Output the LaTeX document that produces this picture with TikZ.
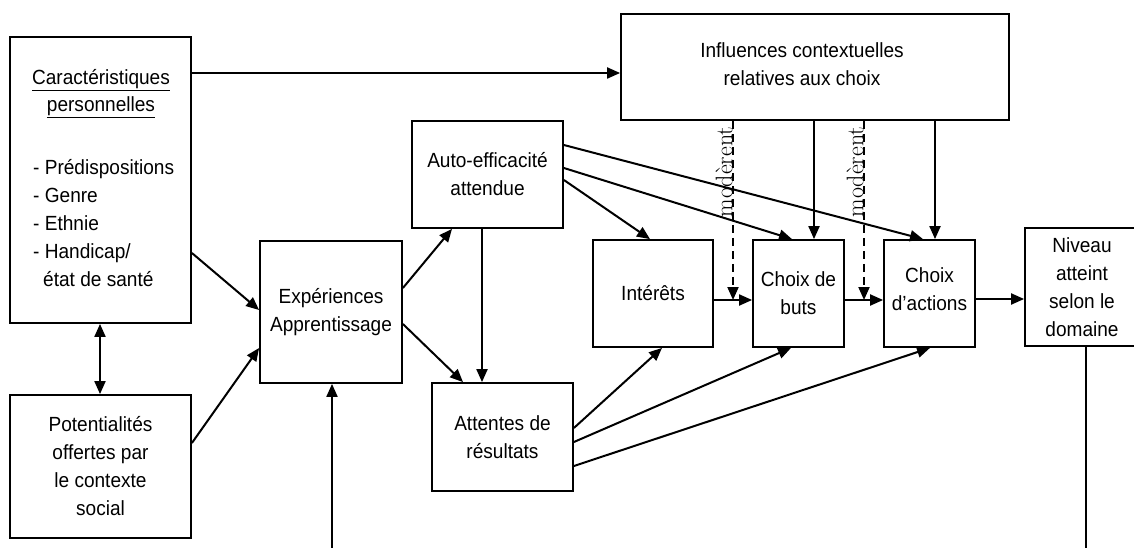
\documentclass[tikz,border=0pt]{standalone}
\usepackage{fontspec}
\newfontfamily\arialn[FakeStretch=0.93]{Liberation Sans}
\usetikzlibrary{arrows.meta}
\begin{document}
\begin{tikzpicture}[x=1pt,y=-1pt,
  box/.style={draw,line width=1.8pt,rectangle,inner sep=0pt,align=center,
    font=\arialn\fontsize{20.5}{28}\selectfont},
  txt/.style={inner sep=0pt,font=\arialn\fontsize{20.5}{28}\selectfont},
  tip/.style={},
  arr/.style={line width=2pt,-{Triangle[length=13pt,width=11pt]}},
  darr/.style={arr,dash pattern=on 8pt off 5pt},
  plain/.style={line width=2pt},
  modlbl/.style={inner sep=0pt,rotate=90,font=\rmfamily\fontsize{24}{24}\selectfont}]
\useasboundingbox (0,0) rectangle (1134,548);
% boxes
\node[box,minimum width=181pt,minimum height=286pt] (caract) at (100.5,180) {};
\node[txt,align=center] (caracthead) at (101,94) {\underline{Caractéristiques}\\[-1pt]\underline{personnelles}};
\node[txt,align=left,anchor=west] (caractlist) at (33,223) {- Prédispositions\\- Genre\\- Ethnie\\- Handicap/\\\hspace*{10pt}état de santé};
\node[box,minimum width=181pt,minimum height=143pt] (pot) at (100.5,466.5) {Potentialités\\offertes par\\le contexte\\social};
\node[box,minimum width=142pt,minimum height=142pt] (exp) at (331,312) {Expériences\\Apprentissage};
\node[box,minimum width=151pt,minimum height=107pt] (auto) at (487.5,174.5) {Auto-efficacité\\attendue};
\node[box,minimum width=141pt,minimum height=108pt] (att) at (502.5,437) {Attentes de\\résultats};
\node[box,minimum width=120pt,minimum height=107pt] (int) at (653,293.5) {Intérêts};
\node[box,minimum width=91pt,minimum height=107pt] (buts) at (798.5,293.5) {Choix de\\buts};
\node[box,minimum width=91pt,minimum height=107pt] (act) at (929.5,293.5) {};
\node[txt,align=center] (acttxt) at (929.5,289) {Choix\\d’actions};
\node[box,minimum width=114pt,minimum height=118pt] (niv) at (1082,287) {Niveau\\atteint\\selon le\\domaine};
\node[box,minimum width=388pt,minimum height=106pt] (infl) at (815,67) {};
\node[txt,align=center] (infltxt) at (802,64) {Influences contextuelles\\relatives aux choix};
% moderent labels
\node[modlbl] (mod1) at (724,172) {modèrent};
\node[modlbl] (mod2) at (855,172) {modèrent};
% free ends
\coordinate (expin) at (332,548);
\coordinate (nivout) at (1086,548);
\coordinate (m1) at (733,300);
\coordinate (m2) at (864,300);
% connectors
\draw[arr] (caract.east |- 0,73) -- (infl.west |- 0,73);
\draw[arr] (caract.east |- 0,253) -- (exp.west |- 0,310);
\draw[line width=2pt,{Triangle[length=13pt,width=11pt]}-{Triangle[length=13pt,width=11pt]}] (caract.south -| 100,0) -- (pot.north -| 100,0);
\draw[arr] (pot.east |- 0,443) -- (exp.west |- 0,348);
\draw[arr] (expin) -- (exp.south -| 332,0);
\draw[arr] (exp.east |- 0,288) -- (auto.south -| 452,0);
\draw[arr] (exp.east |- 0,324) -- (att.north -| 463,0);
\draw[arr] (auto.south -| 482,0) -- (att.north -| 482,0);
\draw[arr] (auto.east |- 0,180) -- (int.north -| 650,0);
\draw[arr] (auto.east |- 0,168) -- (buts.north -| 792,0);
\draw[arr] (auto.east |- 0,145) -- (act.north -| 923,0);
\draw[arr] (att.east |- 0,428) -- (int.south -| 662,0);
\draw[arr] (att.east |- 0,442) -- (buts.south -| 791,0);
\draw[arr] (att.east |- 0,466) -- (act.south -| 930,0);
\draw[arr] (int.east |- 0,300) -- (buts.west |- 0,300);
\draw[arr] (buts.east |- 0,300) -- (act.west |- 0,300);
\draw[arr] (act.east |- 0,299) -- (niv.west |- 0,299);
\draw[arr] (infl.south -| 814,0) -- (buts.north -| 814,0);
\draw[arr] (infl.south -| 935,0) -- (act.north -| 935,0);
\draw[darr] (infl.south -| 733,0) -- (m1);
\draw[darr] (infl.south -| 864,0) -- (m2);
\draw[plain] (niv.south -| 1086,0) -- (nivout);
\end{tikzpicture}
\end{document}
